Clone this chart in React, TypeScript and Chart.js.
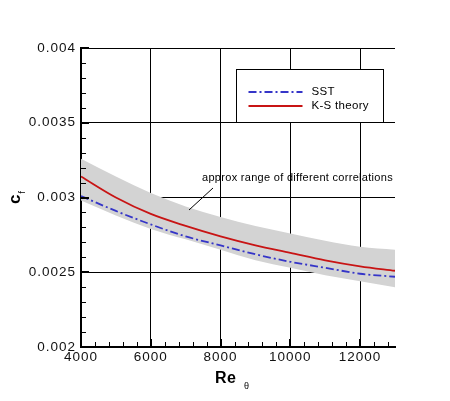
import { useEffect, useRef } from "react"
import { Chart, registerables } from "chart.js"

Chart.register(...registerables)

// Re_theta stations and skin friction values
const reTheta = [4000, 5000, 6000, 7000, 8000, 9000, 10000, 11000, 12000, 13000]
const sstCf = [0.00301, 0.00291, 0.00282, 0.00274, 0.00268, 0.00262, 0.00257, 0.00253, 0.00249, 0.00247]
const ksCf = [0.00314, 0.003, 0.00289, 0.00281, 0.00274, 0.00268, 0.00263, 0.00258, 0.00254, 0.00251]
const rangeUpper = [0.00326, 0.00314, 0.00303, 0.00294, 0.00287, 0.00281, 0.00276, 0.00271, 0.00267, 0.00265]
const rangeLower = [0.00298, 0.00288, 0.00279, 0.00272, 0.00265, 0.00258, 0.00253, 0.00248, 0.00244, 0.0024]

const xTicks = [4000, 6000, 8000, 10000, 12000]
const yTicks = [0.002, 0.0025, 0.003, 0.0035, 0.004]
const yTickLabels = ["0.002", "0.0025", "0.003", "0.0035", "0.004"]
const legendLabels = ["SST", "K-S theory"]
const annotationText = "approx range of different correlations"

const FONT = "'Liberation Sans', Arial, Helvetica, sans-serif"

const toPoints = (ys: number[]) => reTheta.map((x, i) => ({ x, y: ys[i] }))

// inward minor/major ticks, legend box, axis titles and the annotation
const decorPlugin = {
  id: "decor",
  beforeDraw(chart: any) {
    // the original plot's lettering is a little wider than Arial
    chart.ctx.letterSpacing = "1px"
  },
  afterDatasetsDraw(chart: any) {
    const { ctx, chartArea: a, scales } = chart
    const xs = scales.x
    const ys = scales.y
    ctx.save()
    ctx.letterSpacing = "0px"
    ctx.strokeStyle = "#000"

    // minor ticks
    ctx.lineWidth = 1
    ctx.beginPath()
    for (let v = 4000; v <= 13000; v += 400) {
      const px = Math.round(xs.getPixelForValue(v)) + 0.5
      ctx.moveTo(px, a.bottom)
      ctx.lineTo(px, a.bottom - 5)
    }
    for (let i = 20; i <= 40; i++) {
      const py = Math.round(ys.getPixelForValue(i / 10000)) + 0.5
      ctx.moveTo(a.left, py)
      ctx.lineTo(a.left + 5, py)
    }
    ctx.stroke()

    // major ticks
    ctx.lineWidth = 2
    ctx.beginPath()
    for (const v of xTicks) {
      const px = Math.round(xs.getPixelForValue(v))
      ctx.moveTo(px, a.bottom)
      ctx.lineTo(px, a.bottom - 8)
    }
    for (const v of yTicks) {
      const py = Math.round(ys.getPixelForValue(v))
      ctx.moveTo(a.left, py)
      ctx.lineTo(a.left + 8, py)
    }
    ctx.stroke()

    // legend box
    const bx = a.left + 155.5
    const by = 69.5
    ctx.fillStyle = "#fff"
    ctx.fillRect(bx, by, 147, 53)
    ctx.lineWidth = 1
    ctx.strokeRect(bx, by, 147, 53)
    const entries = [chart.data.datasets[2], chart.data.datasets[3]]
    entries.forEach((ds: any, i: number) => {
      const ly = 92 + i * 14
      ctx.save()
      ctx.strokeStyle = ds.borderColor
      ctx.lineWidth = 2
      ctx.setLineDash(ds.borderDash || [])
      ctx.beginPath()
      ctx.moveTo(bx + 12, ly)
      ctx.lineTo(bx + 66, ly)
      ctx.stroke()
      ctx.restore()
      ctx.fillStyle = "#000"
      ctx.font = `11.5px ${FONT}`
      ctx.letterSpacing = "0.3px"
      ctx.textBaseline = "middle"
      ctx.textAlign = "left"
      ctx.fillText(legendLabels[i], bx + 75, ly)
    })

    // annotation with leader line
    ctx.fillStyle = "#000"
    ctx.font = `11px ${FONT}`
    ctx.letterSpacing = "0.3px"
    ctx.textBaseline = "middle"
    ctx.textAlign = "left"
    ctx.fillText(annotationText, 202, 178)
    ctx.letterSpacing = "0px"
    ctx.lineWidth = 1
    ctx.beginPath()
    ctx.moveTo(189, 210)
    ctx.lineTo(213, 188)
    ctx.stroke()

    // x title Re_theta
    ctx.textBaseline = "alphabetic"
    ctx.font = `bold 16px ${FONT}`
    ctx.letterSpacing = "0.5px"
    ctx.fillText("Re", 215, 383)
    ctx.letterSpacing = "0px"
    ctx.font = `9px ${FONT}`
    ctx.fillText("\u03b8", 244, 389)

    // y title c_f, rotated
    ctx.save()
    ctx.translate(20, 204)
    ctx.rotate(-Math.PI / 2)
    ctx.font = `bold 17px ${FONT}`
    ctx.fillText("c", 0, 0)
    const cw = ctx.measureText("c").width
    ctx.font = `9px ${FONT}`
    ctx.fillText("f", cw + 1, 5)
    ctx.restore()

    ctx.restore()
  },
}

export default function App() {
  const canvasRef = useRef<HTMLCanvasElement>(null)
  const chartInstance = useRef<Chart | null>(null)

  useEffect(() => {
    if (!canvasRef.current) return
    if (chartInstance.current) chartInstance.current.destroy()

    const tickFont = { family: FONT, size: 13.5 }

    chartInstance.current = new Chart(canvasRef.current, {
      type: "line",
      data: {
        datasets: [
          {
            label: "range lower",
            data: toPoints(rangeLower),
            borderColor: "transparent",
            borderWidth: 0,
            pointRadius: 0,
            fill: false,
            order: 2,
          },
          {
            label: "range upper",
            data: toPoints(rangeUpper),
            borderColor: "transparent",
            borderWidth: 0,
            pointRadius: 0,
            backgroundColor: "#d3d3d3",
            fill: "-1",
            order: 2,
          },
          {
            label: "SST",
            data: toPoints(sstCf),
            borderColor: "#3535c8",
            borderWidth: 1.8,
            borderDash: [8, 3, 2, 3],
            pointRadius: 0,
            fill: false,
            order: 1,
          },
          {
            label: "K-S theory",
            data: toPoints(ksCf),
            borderColor: "#c81414",
            borderWidth: 1.8,
            pointRadius: 0,
            fill: false,
            order: 0,
          },
        ],
      },
      options: {
        animation: false,
        responsive: true,
        maintainAspectRatio: false,
        layout: { padding: { top: 48, right: 55, left: 0, bottom: 0 } },
        elements: { line: { cubicInterpolationMode: "monotone" } },
        plugins: {
          legend: { display: false },
          tooltip: { enabled: false },
        },
        scales: {
          x: {
            type: "linear",
            min: 4000,
            max: 13000,
            afterBuildTicks: (s: any) => {
              s.ticks = xTicks.map((value) => ({ value }))
            },
            afterFit: (s: any) => {
              s.height = 54
            },
            grid: { color: "#000", lineWidth: 1, drawTicks: false },
            border: { color: "#000", width: 2 },
            ticks: {
              padding: 2,
              color: "#111",
              font: tickFont,
              maxRotation: 0,
              callback: (v: any) => String(v),
            },
          },
          y: {
            type: "linear",
            min: 0.002,
            max: 0.004,
            afterBuildTicks: (s: any) => {
              s.ticks = yTicks.map((value) => ({ value }))
            },
            afterFit: (s: any) => {
              s.width = 81
            },
            grid: { color: "#000", lineWidth: 1, drawTicks: false },
            border: { color: "#000", width: 2 },
            ticks: {
              padding: 5,
              color: "#111",
              font: tickFont,
              callback: (v: any) => yTickLabels[yTicks.indexOf(v)] ?? "",
            },
          },
        },
      },
      plugins: [decorPlugin],
    })

    return () => {
      if (chartInstance.current) {
        chartInstance.current.destroy()
        chartInstance.current = null
      }
    }
  }, [])

  return (
    <div style={{ position: "absolute", left: 0, top: 0, width: 450, height: 401, background: "#fff" }}>
      <canvas ref={canvasRef}></canvas>
    </div>
  )
}
